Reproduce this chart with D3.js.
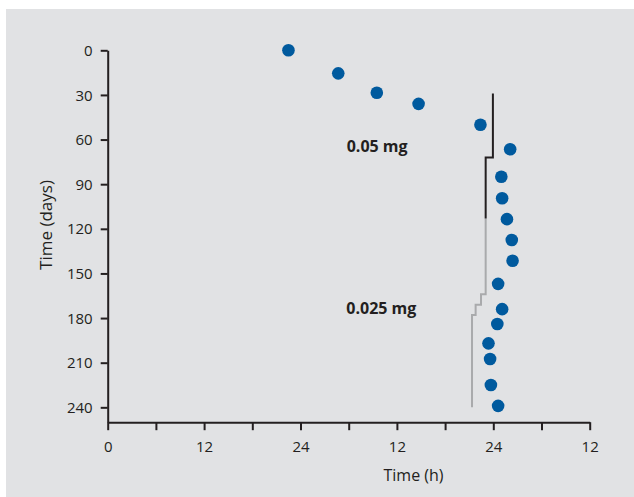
<!DOCTYPE html>
<html lang="en">
<head>
<meta charset="utf-8">
<title>Onset time</title>
<script src="https://d3js.org/d3.v7.min.js"></script>
<style>
  body { margin: 0; background: #fff; font-family: "Open Sans", sans-serif; }
  .axis path, .axis line { stroke: #231f20; stroke-width: 2; fill: none; }
  .axis text { font-family: "Open Sans", sans-serif; font-size: 15px; font-weight: 500; fill: #231f20; }
  .label { font-family: "Open Sans", sans-serif; fill: #231f20; font-weight: 500; }
</style>
</head>
<body>
<div id="viz"></div>
<script>
// observed onsets: day of experiment vs clock time (h, plotted double)
var onsetDays  = [0, 15.5, 28.5, 36, 50, 66.5, 85, 99.5, 113.5, 127.5, 141.5, 157, 174, 184, 197, 207.5, 225, 239];
var onsetHours = [22.5, 28.7, 33.5, 38.7, 46.4, 50.1, 49.0, 49.1, 49.7, 50.3, 50.4, 48.6, 49.1, 48.5, 47.4, 47.6, 47.7, 48.6];

// dose schedule (steps)
var highDoseDays  = [29, 72, 113];
var highDoseHours = [47.95, 47.05, 47.05];
var lowDoseDays   = [113, 164, 171, 178, 240];
var lowDoseHours  = [47.05, 46.47, 45.8, 45.35, 45.35];

var dayTicks   = [0, 30, 60, 90, 120, 150, 180, 210, 240];
var hourTicks  = [0, 6, 12, 18, 24, 30, 36, 42, 48, 54, 60];
var hourLabels = ["0", "", "12", "", "24", "", "12", "", "24", "", "12"];

var W = 634, H = 497;

var svg = d3.select("#viz").append("svg")
  .attr("width", W)
  .attr("height", H);

svg.append("rect")
  .attr("x", 6).attr("y", 9)
  .attr("width", W - 6).attr("height", H - 9)
  .attr("fill", "#e1e2e4");

var x = d3.scaleLinear().domain([0, 60]).range([107.7, 589.7]);
var y = d3.scaleLinear().domain([0, 250]).range([50.3, 422.2]);

svg.append("g")
  .attr("class", "axis")
  .attr("transform", "translate(" + x(0) + ",0)")
  .call(d3.axisLeft(y).tickValues(dayTicks).tickSize(7).tickSizeOuter(0).tickPadding(8))
  .selectAll("text").attr("dy", "0.34em");

svg.append("g")
  .attr("class", "axis")
  .attr("transform", "translate(0," + y(250) + ")")
  .call(d3.axisBottom(x).tickValues(hourTicks).tickSize(8).tickSizeOuter(0).tickPadding(11)
    .tickFormat(function(d, i) { return hourLabels[i]; }));

var stepLine = d3.line()
  .x(function(d) { return x(d[1]); })
  .y(function(d) { return y(d[0]); })
  .curve(d3.curveStepBefore);

svg.append("path")
  .datum(d3.zip(lowDoseDays, lowDoseHours))
  .attr("d", stepLine)
  .attr("fill", "none")
  .attr("stroke", "#a9aaac")
  .attr("stroke-width", 2);

svg.append("path")
  .datum(d3.zip(highDoseDays, highDoseHours))
  .attr("d", stepLine)
  .attr("fill", "none")
  .attr("stroke", "#231f20")
  .attr("stroke-width", 2);

svg.selectAll(".dot")
  .data(d3.zip(onsetDays, onsetHours))
  .enter()
  .append("circle")
  .attr("class", "dot")
  .attr("cx", function(d) { return x(d[1]); })
  .attr("cy", function(d) { return y(d[0]); })
  .attr("r", 6.3)
  .attr("fill", "#005a9e");

svg.append("text")
  .attr("class", "label")
  .attr("x", x(29.75)).attr("y", y(68.4))
  .style("font-size", "16px").style("font-weight", 700)
  .text("0.05 mg");

svg.append("text")
  .attr("class", "label")
  .attr("x", x(29.7)).attr("y", y(177.5))
  .style("font-size", "16px").style("font-weight", 700)
  .text("0.025 mg");

svg.append("text")
  .attr("class", "label")
  .attr("x", 413.5).attr("y", 481)
  .attr("text-anchor", "middle")
  .style("font-size", "16px")
  .text("Time (h)");

svg.append("text")
  .attr("class", "label")
  .attr("transform", "translate(52,225) rotate(-90)")
  .attr("text-anchor", "middle")
  .style("font-size", "17px")
  .text("Time (days)");
</script>
</body>
</html>
